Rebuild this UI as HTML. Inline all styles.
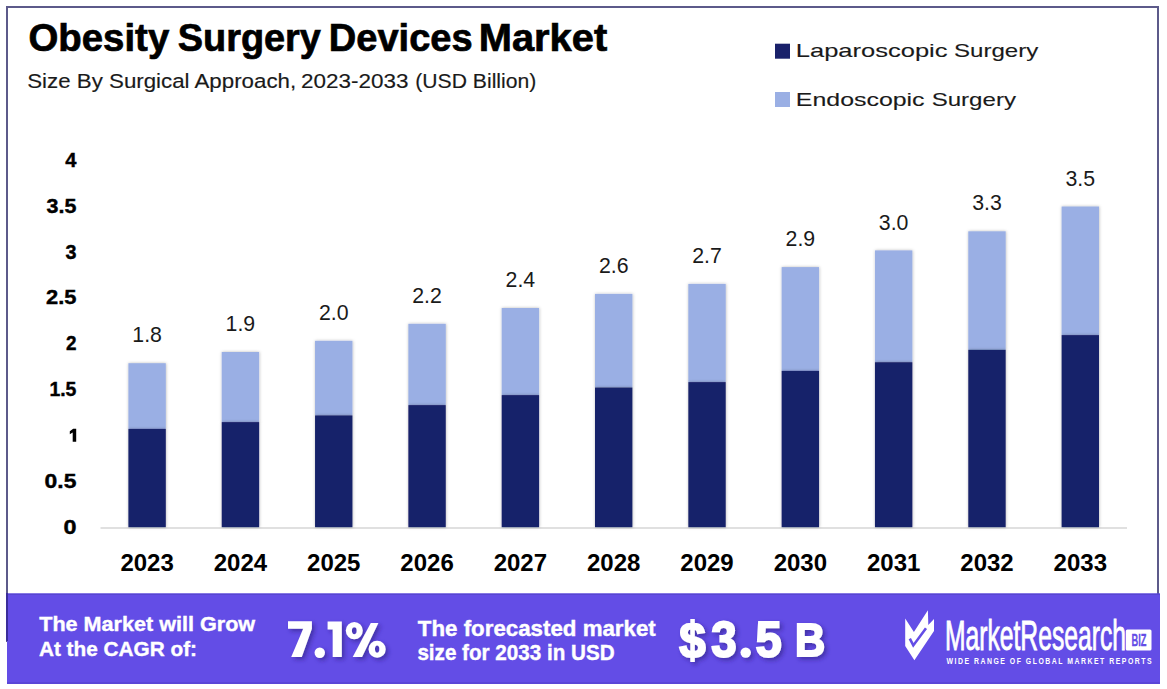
<!DOCTYPE html>
<html><head><meta charset="utf-8"><style>
html,body{margin:0;padding:0;background:#fff;overflow:hidden;}
svg{display:block;font-family:"Liberation Sans", sans-serif;}
</style></head><body>
<svg width="1167" height="689" viewBox="0 0 1167 689">
<defs>
<filter id="bs" x="-20%" y="-5%" width="140%" height="110%"><feDropShadow dx="0.3" dy="0" stdDeviation="1.4" flood-color="#000" flood-opacity="0.28"/></filter>
<filter id="ts" x="-10%" y="-10%" width="130%" height="130%"><feDropShadow dx="2.5" dy="2.5" stdDeviation="2" flood-color="#2a1a80" flood-opacity="0.6"/></filter>
</defs>
<rect x="0" y="0" width="1167" height="689" fill="#ffffff"/>
<rect x="7" y="7" width="1151" height="634" fill="none" stroke="#5c5a8a" stroke-width="2"/>
<rect x="100.5" y="527.2" width="1026.5" height="1.6" fill="#d9d9d9"/>
<rect x="128.40" y="363.2" width="37.4" height="65.70" fill="#9aafe4" filter="url(#bs)"/>
<rect x="128.40" y="428.9" width="37.4" height="98.30" fill="#19216a" filter="url(#bs)"/>
<text x="147.10" y="342.30" font-size="21.3" text-anchor="middle" fill="#1a1a1a">1.8</text>
<text x="147.10" y="570.8" font-size="24" font-weight="bold" text-anchor="middle" fill="#000">2023</text>
<rect x="221.72" y="352.0" width="37.4" height="70.10" fill="#9aafe4" filter="url(#bs)"/>
<rect x="221.72" y="422.1" width="37.4" height="105.10" fill="#19216a" filter="url(#bs)"/>
<text x="240.42" y="331.10" font-size="21.3" text-anchor="middle" fill="#1a1a1a">1.9</text>
<text x="240.42" y="570.8" font-size="24" font-weight="bold" text-anchor="middle" fill="#000">2024</text>
<rect x="315.04" y="340.8" width="37.4" height="74.60" fill="#9aafe4" filter="url(#bs)"/>
<rect x="315.04" y="415.4" width="37.4" height="111.80" fill="#19216a" filter="url(#bs)"/>
<text x="333.74" y="319.90" font-size="21.3" text-anchor="middle" fill="#1a1a1a">2.0</text>
<text x="333.74" y="570.8" font-size="24" font-weight="bold" text-anchor="middle" fill="#000">2025</text>
<rect x="408.36" y="323.8" width="37.4" height="81.30" fill="#9aafe4" filter="url(#bs)"/>
<rect x="408.36" y="405.1" width="37.4" height="122.10" fill="#19216a" filter="url(#bs)"/>
<text x="427.06" y="302.90" font-size="21.3" text-anchor="middle" fill="#1a1a1a">2.2</text>
<text x="427.06" y="570.8" font-size="24" font-weight="bold" text-anchor="middle" fill="#000">2026</text>
<rect x="501.68" y="308.0" width="37.4" height="87.10" fill="#9aafe4" filter="url(#bs)"/>
<rect x="501.68" y="395.1" width="37.4" height="132.10" fill="#19216a" filter="url(#bs)"/>
<text x="520.38" y="287.10" font-size="21.3" text-anchor="middle" fill="#1a1a1a">2.4</text>
<text x="520.38" y="570.8" font-size="24" font-weight="bold" text-anchor="middle" fill="#000">2027</text>
<rect x="595.00" y="293.9" width="37.4" height="93.60" fill="#9aafe4" filter="url(#bs)"/>
<rect x="595.00" y="387.5" width="37.4" height="139.70" fill="#19216a" filter="url(#bs)"/>
<text x="613.70" y="273.00" font-size="21.3" text-anchor="middle" fill="#1a1a1a">2.6</text>
<text x="613.70" y="570.8" font-size="24" font-weight="bold" text-anchor="middle" fill="#000">2028</text>
<rect x="688.32" y="283.9" width="37.4" height="98.20" fill="#9aafe4" filter="url(#bs)"/>
<rect x="688.32" y="382.1" width="37.4" height="145.10" fill="#19216a" filter="url(#bs)"/>
<text x="707.02" y="263.00" font-size="21.3" text-anchor="middle" fill="#1a1a1a">2.7</text>
<text x="707.02" y="570.8" font-size="24" font-weight="bold" text-anchor="middle" fill="#000">2029</text>
<rect x="781.64" y="267.1" width="37.4" height="103.80" fill="#9aafe4" filter="url(#bs)"/>
<rect x="781.64" y="370.9" width="37.4" height="156.30" fill="#19216a" filter="url(#bs)"/>
<text x="800.34" y="246.20" font-size="21.3" text-anchor="middle" fill="#1a1a1a">2.9</text>
<text x="800.34" y="570.8" font-size="24" font-weight="bold" text-anchor="middle" fill="#000">2030</text>
<rect x="874.96" y="250.4" width="37.4" height="111.80" fill="#9aafe4" filter="url(#bs)"/>
<rect x="874.96" y="362.2" width="37.4" height="165.00" fill="#19216a" filter="url(#bs)"/>
<text x="893.66" y="229.50" font-size="21.3" text-anchor="middle" fill="#1a1a1a">3.0</text>
<text x="893.66" y="570.8" font-size="24" font-weight="bold" text-anchor="middle" fill="#000">2031</text>
<rect x="968.28" y="231.3" width="37.4" height="118.50" fill="#9aafe4" filter="url(#bs)"/>
<rect x="968.28" y="349.8" width="37.4" height="177.40" fill="#19216a" filter="url(#bs)"/>
<text x="986.98" y="210.40" font-size="21.3" text-anchor="middle" fill="#1a1a1a">3.3</text>
<text x="986.98" y="570.8" font-size="24" font-weight="bold" text-anchor="middle" fill="#000">2032</text>
<rect x="1061.60" y="206.5" width="37.4" height="128.60" fill="#9aafe4" filter="url(#bs)"/>
<rect x="1061.60" y="335.1" width="37.4" height="192.10" fill="#19216a" filter="url(#bs)"/>
<text x="1080.30" y="185.60" font-size="21.3" text-anchor="middle" fill="#1a1a1a">3.5</text>
<text x="1080.30" y="570.8" font-size="24" font-weight="bold" text-anchor="middle" fill="#000">2033</text>
<text x="76.4" y="533.55" font-size="19.6" font-weight="bold" stroke="#000" stroke-width="0.4" text-anchor="end" fill="#000" textLength="13.0" lengthAdjust="spacingAndGlyphs">0</text>
<text x="76.4" y="487.72" font-size="19.6" font-weight="bold" stroke="#000" stroke-width="0.4" text-anchor="end" fill="#000" textLength="31.8" lengthAdjust="spacingAndGlyphs">0.5</text>
<path d="M69.8,431.2 L73.2,428.7 L76.2,428.7 L76.2,441.8 L72.7,441.8 L72.7,432.6 L69.8,434.2 Z" fill="#000"/>
<text x="76.4" y="396.06" font-size="19.6" font-weight="bold" stroke="#000" stroke-width="0.4" text-anchor="end" fill="#000" textLength="27.0" lengthAdjust="spacingAndGlyphs">1.5</text>
<text x="76.4" y="350.23" font-size="19.6" font-weight="bold" stroke="#000" stroke-width="0.4" text-anchor="end" fill="#000" textLength="10.5" lengthAdjust="spacingAndGlyphs">2</text>
<text x="76.4" y="304.40" font-size="19.6" font-weight="bold" stroke="#000" stroke-width="0.4" text-anchor="end" fill="#000" textLength="30.400000000000002" lengthAdjust="spacingAndGlyphs">2.5</text>
<text x="76.4" y="258.57" font-size="19.6" font-weight="bold" stroke="#000" stroke-width="0.4" text-anchor="end" fill="#000" textLength="11.0" lengthAdjust="spacingAndGlyphs">3</text>
<text x="76.4" y="212.74" font-size="19.6" font-weight="bold" stroke="#000" stroke-width="0.4" text-anchor="end" fill="#000" textLength="29.8" lengthAdjust="spacingAndGlyphs">3.5</text>
<text x="76.4" y="166.91" font-size="19.6" font-weight="bold" stroke="#000" stroke-width="0.4" text-anchor="end" fill="#000" textLength="11.200000000000001" lengthAdjust="spacingAndGlyphs">4</text>
<text x="28.38" y="51.2" font-size="38.5" font-weight="bold" fill="#000" stroke="#000" stroke-width="0.7" textLength="140.87" lengthAdjust="spacingAndGlyphs" >Obesity</text>
<text x="177.75" y="51.2" font-size="38.5" font-weight="bold" fill="#000" stroke="#000" stroke-width="0.7" textLength="143.20" lengthAdjust="spacingAndGlyphs" >Surgery</text>
<text x="328.80" y="51.2" font-size="38.5" font-weight="bold" fill="#000" stroke="#000" stroke-width="0.7" textLength="143.80" lengthAdjust="spacingAndGlyphs" >Devices</text>
<text x="478.68" y="51.2" font-size="38.5" font-weight="bold" fill="#000" stroke="#000" stroke-width="0.7" textLength="128.54" lengthAdjust="spacingAndGlyphs" >Market</text>
<text x="27.25" y="87.6" font-size="19.3" fill="#1a1a1a" stroke="#1a1a1a" stroke-width="0.15" textLength="268.88" lengthAdjust="spacingAndGlyphs" >Size By Surgical Approach,</text>
<text x="301.05" y="87.6" font-size="19.3" fill="#1a1a1a" stroke="#1a1a1a" stroke-width="0.15" textLength="107.47" lengthAdjust="spacingAndGlyphs" >2023-2033</text>
<text x="415.26" y="87.6" font-size="19.3" fill="#1a1a1a" stroke="#1a1a1a" stroke-width="0.15" textLength="121.08" lengthAdjust="spacingAndGlyphs" >(USD Billion)</text>
<rect x="775" y="43.7" width="15" height="15" fill="#19216a"/>
<rect x="775" y="92" width="15" height="15" fill="#9aafe4"/>
<text x="795.77" y="57.3" font-size="19" fill="#1a1a1a" stroke="#1a1a1a" stroke-width="0.12" textLength="151.74" lengthAdjust="spacingAndGlyphs" >Laparoscopic</text>
<text x="953.95" y="57.3" font-size="19" fill="#1a1a1a" stroke="#1a1a1a" stroke-width="0.12" textLength="84.32" lengthAdjust="spacingAndGlyphs" >Surgery</text>
<text x="795.82" y="105.5" font-size="19" fill="#1a1a1a" stroke="#1a1a1a" stroke-width="0.12" textLength="128.77" lengthAdjust="spacingAndGlyphs" >Endoscopic</text>
<text x="931.65" y="105.5" font-size="19" fill="#1a1a1a" stroke="#1a1a1a" stroke-width="0.12" textLength="84.32" lengthAdjust="spacingAndGlyphs" >Surgery</text>
<rect x="7" y="593.4" width="1153" height="90.6" fill="#634de6"/>
<rect x="7" y="593.6" width="1153" height="1.4" fill="#5444cc" opacity="0.8"/>
<rect x="7" y="682.3" width="1153" height="1.4" fill="#5444cc" opacity="0.8"/>
<rect x="6" y="593" width="2" height="48" fill="#3a2c9a"/>
<text x="39.21" y="631.2" font-size="21" font-weight="bold" fill="#fff" stroke="#fff" stroke-width="0.4" textLength="215.94" lengthAdjust="spacingAndGlyphs" >The Market will Grow</text>
<text x="38.93" y="655.9" font-size="21" font-weight="bold" fill="#fff" stroke="#fff" stroke-width="0.4" textLength="158.06" lengthAdjust="spacingAndGlyphs" >At the CAGR of:</text>
<g filter="url(#ts)" fill="#fff">
<path d="M288,621.2 L311.9,621.2 L311.9,628.8 L301.8,657.1 L291.2,657.1 L303.2,628.8 L288,628.8 Z"/>
<circle cx="319.75" cy="652.75" r="5.2"/>
<path d="M327.6,621.5 L341.8,621.5 L341.8,657.1 L332.7,657.1 L332.7,629.5 L327.6,629.5 Z"/>
<path fill-rule="evenodd" d="M345.8,630.6 a8.5,8.7 0 1,0 17,0 a8.5,8.7 0 1,0 -17,0 Z M351.9,630.75 a2.4,3.45 0 1,0 4.8,0 a2.4,3.45 0 1,0 -4.8,0 Z"/>
<path fill-rule="evenodd" d="M368.6,649.3 a8.55,8.5 0 1,0 17.1,0 a8.55,8.5 0 1,0 -17.1,0 Z M374.95,649.1 a2.2,3.6 0 1,0 4.4,0 a2.2,3.6 0 1,0 -4.4,0 Z"/>
<path d="M370.8,623 L378.4,623 L362.1,657.1 L352.7,657.1 Z"/>
</g>
<text x="417.85" y="635.5" font-size="21.2" font-weight="bold" fill="#fff" stroke="#fff" stroke-width="0.4" textLength="237.91" lengthAdjust="spacingAndGlyphs" >The forecasted market</text>
<text x="417.38" y="660" font-size="21.2" font-weight="bold" fill="#fff" stroke="#fff" stroke-width="0.4" textLength="197.29" lengthAdjust="spacingAndGlyphs" >size for 2033 in USD</text>
<g filter="url(#ts)">
<text x="711.35" y="656.5" font-size="49.70" font-weight="bold" fill="#fff" stroke="#fff" stroke-width="2" textLength="25.40" lengthAdjust="spacingAndGlyphs" >3</text>
<text x="755.54" y="656.5" font-size="49.70" font-weight="bold" fill="#fff" stroke="#fff" stroke-width="2" textLength="26.19" lengthAdjust="spacingAndGlyphs" >5</text>
<circle cx="745.7" cy="652.6" r="5.2" fill="#fff"/>
<text x="679.28" y="656.5" font-size="49.70" font-weight="bold" fill="#fff" stroke="#fff" stroke-width="2" textLength="26.39" lengthAdjust="spacingAndGlyphs" >$</text>
<text x="794.90" y="656.1" font-size="46.10" font-weight="bold" fill="#fff" stroke="#fff" stroke-width="2" textLength="30.19" lengthAdjust="spacingAndGlyphs" >B</text>
</g>
<path d="M905.2,618.5 L913.9,632 L927.9,610.2 L928.3,625 L934,619 L934,631.1 L914.4,660.3 L905.2,646 Z" fill="#fff"/>
<path d="M909.8,638.6 L913.3,645.4 L926,628.2" fill="none" stroke="#634de6" stroke-width="2.6"/>
<text x="944.93" y="650.1" font-size="41.9" fill="#fff" stroke="#fff" stroke-width="0.9" textLength="181.03" lengthAdjust="spacingAndGlyphs" >MarketResearch</text>
<rect x="1125.8" y="629.4" width="25.7" height="21.1" rx="1.5" fill="#fff"/>
<text x="1131.53" y="645.8" font-size="16.8" font-weight="bold" fill="#634de6" stroke="#634de6" stroke-width="0.3" textLength="14.99" lengthAdjust="spacingAndGlyphs" >BIZ</text>
<text transform="translate(946.5,663.6) scale(0.72,1)" x="0" y="0" font-size="9.6" font-weight="bold" fill="#fff" textLength="284.92" lengthAdjust="spacing">WIDE RANGE OF GLOBAL MARKET REPORTS</text>
</svg>
</body></html>
